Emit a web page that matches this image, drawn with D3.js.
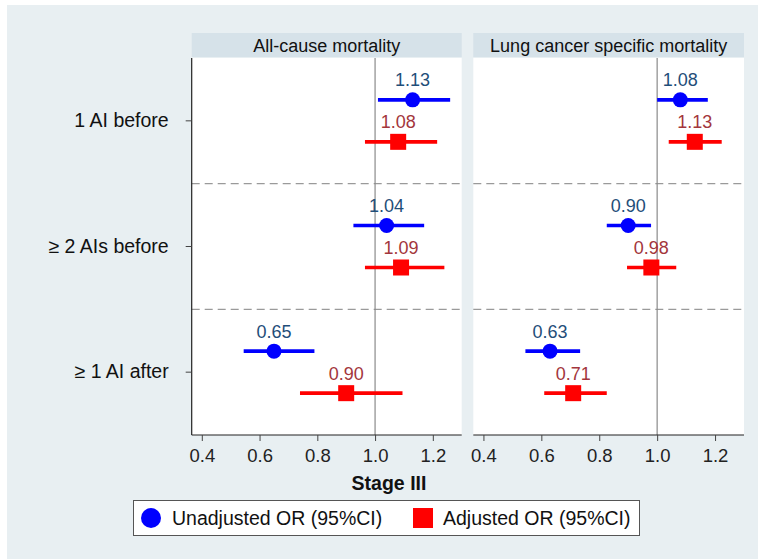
<!DOCTYPE html>
<html>
<head>
<meta charset="utf-8">
<script src="https://cdn.jsdelivr.net/npm/d3@7"></script>
<style>
  html, body { margin: 0; padding: 0; background: #ffffff; }
  svg { display: block; font-family: "Liberation Sans", Arial, sans-serif; }
</style>
</head>
<body>
<svg id="chart" width="758" height="559"></svg>
<script>
// ---- Data ----
const categories = ["1 AI before", "\u2265 2 AIs before", "\u2265 1 AI after"];
const panels = ["All-cause mortality", "Lung cancer specific mortality"];
const seriesNames = ["Unadjusted OR (95%CI)", "Adjusted OR (95%CI)"];
const xTicks = [0.4, 0.6, 0.8, 1.0, 1.2];
const xAxisTitle = "Stage III";

// All-cause mortality
const allUnadjOR = [1.13, 1.04, 0.65];
const allUnadjLo = [1.01, 0.925, 0.545];
const allUnadjHi = [1.26, 1.17, 0.79];
const allAdjOR   = [1.08, 1.09, 0.90];
const allAdjLo   = [0.965, 0.965, 0.74];
const allAdjHi   = [1.215, 1.24, 1.095];

// Lung cancer specific mortality
const lungUnadjOR = [1.08, 0.90, 0.63];
const lungUnadjLo = [1.00, 0.826, 0.545];
const lungUnadjHi = [1.175, 0.979, 0.734];
const lungAdjOR   = [1.13, 0.98, 0.71];
const lungAdjLo   = [1.04, 0.896, 0.61];
const lungAdjHi   = [1.223, 1.066, 0.826];

const panelData = [
  { unadj: { or: allUnadjOR, lo: allUnadjLo, hi: allUnadjHi }, adj: { or: allAdjOR, lo: allAdjLo, hi: allAdjHi } },
  { unadj: { or: lungUnadjOR, lo: lungUnadjLo, hi: lungUnadjHi }, adj: { or: lungAdjOR, lo: lungAdjLo, hi: lungAdjHi } }
];

// ---- Layout ----
const svg = d3.select("#chart");
const W = 758, H = 559;
const bgColor = "#e8eff2";
const headerColor = "#d6e2e9";
const blue = "#0000ff", red = "#ff0000";
const blueText = "#1f4e79", redText = "#a3363c";

svg.append("rect").attr("x", 7).attr("y", 5).attr("width", W - 7).attr("height", H - 5).attr("fill", bgColor);

const plotTop = 58, plotBottom = 435;
const headerTop = 33, headerBottom = 57;
const panelX = [[191.7, 461.7], [473.3, 744]];
const xDomain = [0.365, 1.3];

const y = d3.scaleBand().domain(categories).range([plotTop, plotBottom]).paddingInner(0).paddingOuter(0);
const offset = 21;

panelX.forEach((px, pi) => {
  const x = d3.scaleLinear().domain(xDomain).range(px);
  const g = svg.append("g");

  // header
  g.append("rect").attr("x", px[0]).attr("y", headerTop).attr("width", px[1] - px[0])
    .attr("height", headerBottom - headerTop).attr("fill", headerColor);
  g.append("text").attr("x", (px[0] + px[1]) / 2).attr("y", (headerTop + headerBottom) / 2 + 6.5)
    .attr("text-anchor", "middle").attr("font-size", 18).attr("fill", "#111")
    .text(panels[pi]);

  // plot area
  g.append("rect").attr("x", px[0]).attr("y", plotTop).attr("width", px[1] - px[0])
    .attr("height", plotBottom - plotTop).attr("fill", "#ffffff");

  // dashed separators
  categories.slice(1).forEach(c => {
    g.append("line").attr("x1", px[0]).attr("x2", px[1])
      .attr("y1", y(c)).attr("y2", y(c))
      .attr("stroke", "#9a9a9a").attr("stroke-width", 1.3).attr("stroke-dasharray", "8,5");
  });

  // reference line at 1
  g.append("line").attr("x1", x(1)).attr("x2", x(1)).attr("y1", plotTop).attr("y2", plotBottom)
    .attr("stroke", "#8a8a8a").attr("stroke-width", 1.2);

  // bottom axis
  const ax = g.append("g").attr("transform", `translate(0,${plotBottom})`)
    .call(d3.axisBottom(x).tickValues(xTicks).tickFormat(d3.format(".1f")).tickSize(6).tickPadding(8));
  ax.select(".domain").attr("stroke", "#222").attr("stroke-width", 1.2)
    .attr("d", `M${px[0]},0H${px[1]}`);
  ax.selectAll(".tick line").attr("stroke", "#444");
  ax.selectAll(".tick text").attr("font-size", 18.5).attr("fill", "#222")
    .attr("font-family", "Liberation Sans, Arial, sans-serif");

  if (pi === 0) {
    const ay = g.append("g").attr("transform", `translate(${px[0]},0)`)
      .call(d3.axisLeft(y).tickSize(6).tickPadding(17));
    ay.select(".domain").attr("stroke", "#222").attr("stroke-width", 1.2)
      .attr("d", `M0,${plotTop}V${plotBottom}`);
    ay.selectAll(".tick line").attr("stroke", "#444");
    ay.selectAll(".tick text").attr("font-size", 19.5).attr("fill", "#111")
      .attr("font-family", "Liberation Sans, Arial, sans-serif");
  }

  const d = panelData[pi];
  const series = [
    { s: d.unadj, dy: -offset, color: blue, tcolor: blueText, shape: "circle" },
    { s: d.adj, dy: offset, color: red, tcolor: redText, shape: "square" }
  ];
  series.forEach(se => {
    categories.forEach((c, i) => {
      const cy = y(c) + y.bandwidth() / 2 + se.dy;
      g.append("line").attr("x1", x(se.s.lo[i])).attr("x2", x(se.s.hi[i]))
        .attr("y1", cy).attr("y2", cy).attr("stroke", se.color).attr("stroke-width", 3.6);
      if (se.shape === "circle") {
        g.append("circle").attr("cx", x(se.s.or[i])).attr("cy", cy).attr("r", 7.5).attr("fill", se.color);
      } else {
        g.append("rect").attr("x", x(se.s.or[i]) - 8).attr("y", cy - 8).attr("width", 16).attr("height", 16).attr("fill", se.color);
      }
      g.append("text").attr("x", x(se.s.or[i])).attr("y", cy - 13.5)
        .attr("text-anchor", "middle").attr("font-size", 18).attr("fill", se.tcolor)
        .text(d3.format(".2f")(se.s.or[i]));
    });
  });
});

// x axis title
svg.append("text").attr("x", 389).attr("y", 490).attr("text-anchor", "middle")
  .attr("font-size", 19.5).attr("font-weight", "bold").attr("fill", "#111").text(xAxisTitle);

// legend
const lg = svg.append("g");
lg.append("rect").attr("x", 133.5).attr("y", 500.5).attr("width", 506).attr("height", 35)
  .attr("fill", "#ffffff").attr("stroke", "#555").attr("stroke-width", 1);
lg.append("circle").attr("cx", 151).attr("cy", 518).attr("r", 10).attr("fill", blue);
lg.append("text").attr("x", 172).attr("y", 525).attr("font-size", 19.5).attr("fill", "#111").text(seriesNames[0]);
lg.append("rect").attr("x", 413).attr("y", 508).attr("width", 20).attr("height", 20).attr("fill", red);
lg.append("text").attr("x", 443).attr("y", 525).attr("font-size", 19.5).attr("fill", "#111").text(seriesNames[1]);
</script>
</body>
</html>
